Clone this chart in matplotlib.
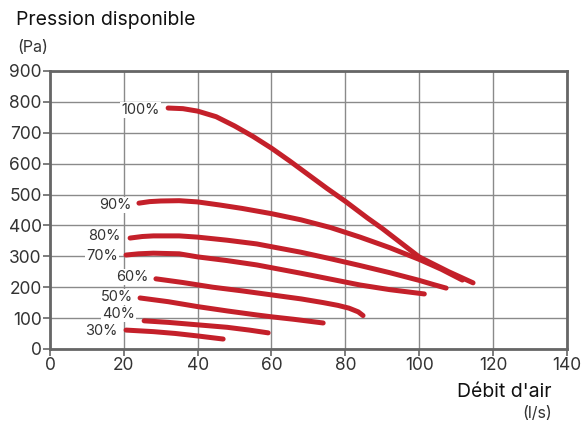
import numpy as np
import matplotlib.pyplot as plt

plt.rcParams['font.family'] = ['Inter', 'DejaVu Sans']

# fan speed curves: airflow (l/s) vs available pressure (Pa)
labels = ["100%", "90%", "80%", "70%", "60%", "50%", "40%", "30%"]
flow = {
    "100%": [32, 36, 40, 45, 50, 55, 60, 65, 70, 75, 80, 86, 90, 95, 100, 108, 114.6],
    "90%": [24.1, 27, 30, 35, 40, 46, 52, 60, 68, 76, 84, 92, 100, 106, 111.7],
    "80%": [21.7, 25, 28, 35, 40, 48, 56, 60, 68, 76, 84, 92, 100, 104, 107.3],
    "70%": [20.6, 24, 28, 35, 40, 48, 56, 60, 68, 76, 84, 92, 101.4],
    "60%": [28.7, 36, 44, 52, 60, 68, 74, 78, 81, 83.5, 84.8],
    "50%": [24.4, 32, 40, 48, 56, 60, 66, 74],
    "40%": [25.5, 32, 40, 48, 54, 59.1],
    "30%": [20.6, 28, 34, 40, 46.9],
}
pressure = {
    "100%": [780, 778, 770, 752, 722, 688, 650, 608, 564, 520, 478, 424, 390, 344, 298, 250, 214],
    "90%": [472, 477, 479, 480, 476, 466, 455, 438, 418, 393, 362, 328, 290, 258, 223],
    "80%": [359, 364, 366, 366, 362, 352, 340, 331, 313, 292, 270, 247, 222, 208, 197],
    "70%": [304, 308, 310, 308, 298, 286, 272, 263, 245, 226, 207, 192, 178],
    "60%": [227, 215, 200, 188, 175, 162, 150, 141, 132, 120, 108],
    "50%": [165, 153, 137, 123, 110, 104, 96, 84],
    "40%": [91, 86, 78, 70, 61, 52],
    "30%": [61, 56, 50, 42, 32],
}
label_pos = {
    "100%": (29.8, 773), "90%": (22.2, 466), "80%": (19.2, 366),
    "70%": (18.4, 301), "60%": (26.6, 233), "50%": (22.5, 168),
    "40%": (23.0, 113), "30%": (18.4, 58),
}

red = "#c4202a"
grid_c = "#8a8a8a"

fig = plt.figure(figsize=(5.82, 4.25), dpi=100)
ax = fig.add_axes([0.0859, 0.179, 0.888, 0.654])

for lab in labels:
    ax.plot(flow[lab], pressure[lab], color=red, lw=3.6,
            solid_capstyle='round', solid_joinstyle='round', zorder=4)
    x, y = label_pos[lab]
    ax.text(x, y, lab, fontsize=10.5, color="#333333", va='center', ha='right',
            zorder=3, bbox=dict(facecolor='white', edgecolor='none', pad=0.8))

ax.set_xlim(0, 140)
ax.set_ylim(0, 900)
ax.set_xticks(np.arange(0, 141, 20))
ax.set_yticks(np.arange(0, 901, 100))
ax.grid(True, color=grid_c, lw=1.0, zorder=1)
ax.set_axisbelow(True)
for s in ax.spines.values():
    s.set_color("#666666")
    s.set_linewidth(2)
ax.tick_params(colors="#666666", labelcolor="#333333", labelsize=12.5,
               length=5, width=1.2, pad=1)

fig.text(0.027, 0.952, "Pression disponible", fontsize=14, va='center',
         ha='left', color="#111111")
fig.text(0.03, 0.889, "(Pa)", fontsize=11.5, va='center', ha='left',
         color="#333333")
fig.text(0.948, 0.078, "Débit d'air", fontsize=14, va='center',
         ha='right', color="#111111")
fig.text(0.948, 0.028, "(l/s)", fontsize=11.5, va='center', ha='right',
         color="#333333")

fig.savefig("out.png", dpi=100)
